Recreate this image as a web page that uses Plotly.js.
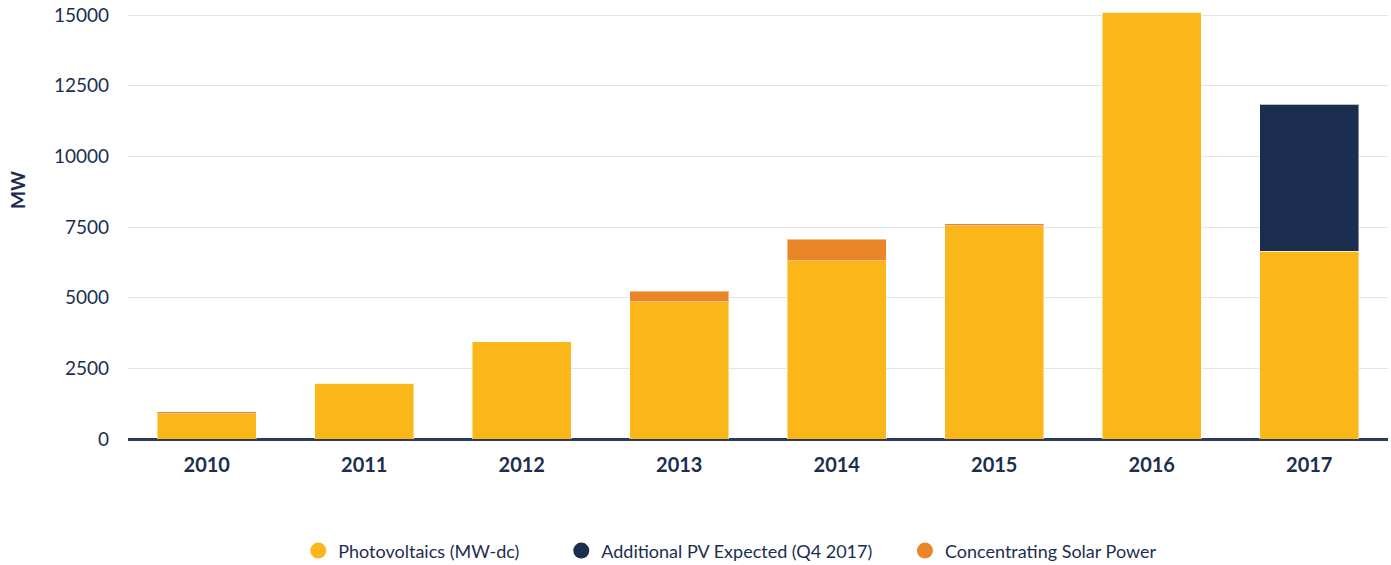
<!DOCTYPE html>
<html>
<head>
<meta charset="utf-8">
<script src="https://cdn.plot.ly/plotly-3.0.1.min.js"></script>
<style>html,body{margin:0;padding:0;background:#fff;}#chart{width:1391px;height:565px;}</style>
</head>
<body>
<div id="chart"></div>
<script>
var years = ['2010','2011','2012','2013','2014','2015','2016','2017'];
var photovoltaics = [900, 1980, 3440, 4850, 6300, 7550, 15100, 6650];
var additionalPV = [0, 0, 0, 0, 0, 0, 0, 5200];
var csp = [65, 0, 0, 380, 770, 65, 0, 0];
var seriesNames = ['Photovoltaics (MW-dc)', 'Additional PV Expected (Q4 2017)', 'Concentrating Solar Power'];
var colors = ['#fbb719', '#1c2e4f', '#eb8628'];

var navy = '#1c2e4f';
var font = 'Lato, "Open Sans", sans-serif';
var series = [photovoltaics, additionalPV, csp];
var legendPad = ['&nbsp;&nbsp;&nbsp;&nbsp;&nbsp;&nbsp;&nbsp;&nbsp;', '&nbsp;&nbsp;&nbsp;&nbsp;&nbsp;&nbsp;', ''];

var traces = [];
series.forEach(function(vals, i){
  traces.push({
    type: 'bar', x: years, y: vals, name: seriesNames[i],
    marker: {color: colors[i], line: {color: 'rgba(255,255,255,0.45)', width: 1}},
    showlegend: false, legendgroup: 'g' + i, hoverinfo: 'x+y+name'
  });
});
series.forEach(function(vals, i){
  traces.push({
    type: 'scatter', mode: 'markers', x: [null], y: [null], name: seriesNames[i] + legendPad[i],
    marker: {color: colors[i], size: 20, symbol: 'circle'},
    showlegend: true, legendgroup: 'g' + i
  });
});

var layout = {
  width: 1391, height: 565,
  margin: {l: 128, r: 3, t: 5, b: 126},
  barmode: 'stack', bargap: 0.373,
  paper_bgcolor: '#fff', plot_bgcolor: '#fff',
  font: {family: font, color: navy},
  xaxis: {
    type: 'category', tickfont: {size: 20, family: font, color: navy, weight: 'bold'},
    showgrid: false, showline: false, ticks: '', ticklabelstandoff: 12, automargin: false
  },
  yaxis: {
    range: [0, 15360], tickvals: [0, 2500, 5000, 7500, 10000, 12500, 15000],
    ticktext: ['0','2500','5000','7500','10000','12500','15000'],
    tickfont: {size: 19, family: font, color: navy},
    gridcolor: '#e4e4e4', gridwidth: 1,
    zeroline: true, zerolinecolor: '#2a3a5a', zerolinewidth: 2.5,
    ticks: '', ticklabelstandoff: 18, automargin: false
  },
  annotations: [{
    text: '<b>MW</b>', xref: 'paper', yref: 'paper', x: -0.0873, y: 0.574,
    xanchor: 'center', yanchor: 'middle', textangle: -90, showarrow: false,
    font: {size: 19, family: font, color: navy}
  }],
  legend: {
    orientation: 'h', x: 0.478, xanchor: 'center', yref: 'container', y: 0.025, yanchor: 'middle',
    font: {size: 18, family: font, color: navy}, itemwidth: 30, tracegroupgap: 0,
    traceorder: 'normal'
  },
  showlegend: true
};

Plotly.newPlot('chart', traces, layout, {displayModeBar: false, responsive: false});
</script>
</body>
</html>
